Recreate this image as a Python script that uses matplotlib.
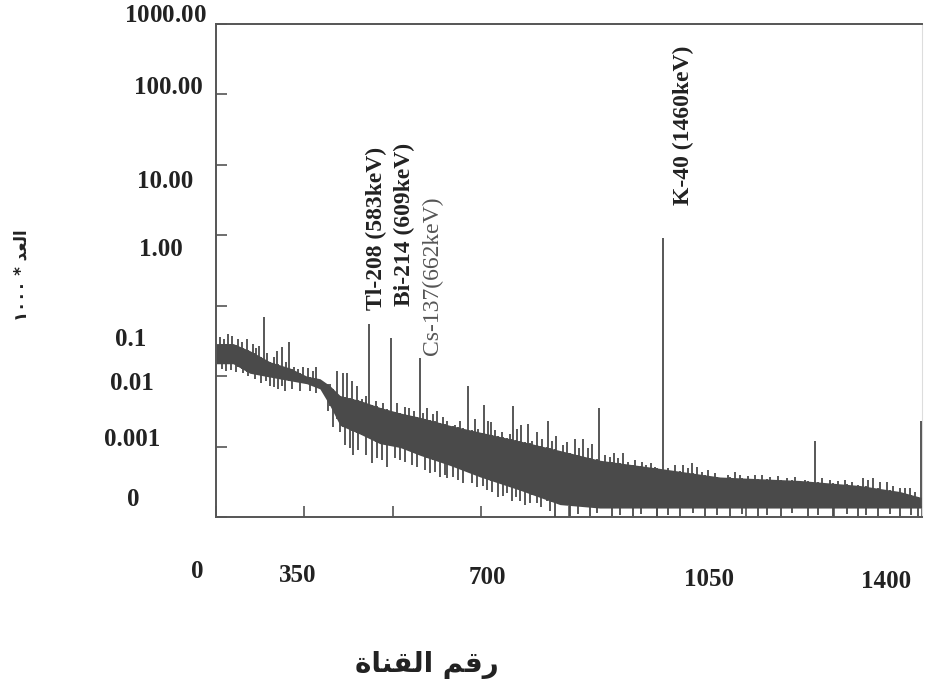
import numpy as np
import matplotlib
matplotlib.use("Agg")
import matplotlib.pyplot as plt
from matplotlib.transforms import ScaledTranslation

# ---------------- data ----------------
# continuum band of the spectrum: channel, upper edge, lower edge (counts*1000)
band_ch = [0, 34, 67, 107, 147, 180, 206, 226, 246, 286, 325, 365, 405, 464,
           524, 603, 682, 761, 880, 999, 1158, 1277, 1356, 1398]
band_hi = [0.029, 0.029, 0.023, 0.016, 0.013, 0.010, 0.0092, 0.0073, 0.0053,
           0.0045, 0.0036, 0.0030, 0.0026, 0.0020, 0.0016, 0.0012, 0.00088,
           0.00064, 0.00049, 0.00037, 0.00033, 0.00028, 0.00023, 0.00019]
band_lo = [0.015, 0.015, 0.011, 0.0097, 0.0086, 0.0078, 0.0066, 0.0038, 0.0020,
           0.0015, 0.0011, 0.00097, 0.00075, 0.00054, 0.00037, 0.00024, 0.00015,
           0.000134, 0.000134, 0.000134, 0.000134, 0.000134, 0.000134, 0.000134]

# main photopeaks and strong lines: channel and peak value
peak_ch = [24, 44, 61, 73, 95, 131, 145, 240, 252, 260, 270, 280, 303, 347,
           359, 375, 405, 418, 438, 450, 500, 514, 531, 545, 589, 605, 619,
           637, 658, 674, 712, 728, 746, 760, 789, 807, 845, 863, 886, 910,
           926, 944, 954, 1039, 1188, 1283, 1303, 1331, 1356, 1376, 1398]
peak_val = [0.040, 0.034, 0.034, 0.029, 0.069, 0.026, 0.031, 0.012, 0.011,
            0.011, 0.0086, 0.0073, 0.055, 0.035, 0.0041, 0.0036, 0.018,
            0.0035, 0.0032, 0.0026, 0.0073, 0.0025, 0.0039, 0.0022, 0.0038,
            0.0020, 0.0021, 0.0016, 0.0023, 0.0014, 0.0013, 0.0013, 0.0011,
            0.0035, 0.00080, 0.00080, 0.00060, 0.00058, 0.92, 0.00054,
            0.00054, 0.00058, 0.00051, 0.00039, 0.0012, 0.00036, 0.00036,
            0.00031, 0.00026, 0.00026, 0.0023]

# small upward fluctuations along the top of the band
fluct_up_ch = [8, 16, 32, 52, 79, 85, 101, 115, 121, 139, 155, 163, 173, 182,
               192, 198, 226, 290, 297, 317, 331, 383, 393, 410, 430, 458, 474,
               484, 520, 539, 553, 567, 583, 597, 627, 646, 666, 688, 696, 720,
               738, 771, 781, 797, 817, 831, 853, 871, 896, 936, 964, 976, 990,
               1015, 1029, 1055, 1069, 1083, 1099, 1114, 1132, 1148, 1168, 1202,
               1218, 1233, 1247, 1261, 1293, 1317, 1342, 1366, 1386]
fluct_up_val = [0.036, 0.034, 0.037, 0.031, 0.025, 0.027, 0.021, 0.019, 0.023,
                0.016, 0.0135, 0.0127, 0.0135, 0.013, 0.012, 0.0135, 0.0078,
                0.0048, 0.0053, 0.0045, 0.0041, 0.0035, 0.0032, 0.0030, 0.0029,
                0.0023, 0.0020, 0.0023, 0.0018, 0.0023, 0.0017, 0.0016, 0.0015,
                0.0018, 0.0012, 0.0013, 0.0012, 0.00104, 0.00115, 0.00094,
                0.00097, 0.00075, 0.00070, 0.00068, 0.00060, 0.00064, 0.00054,
                0.00052, 0.00049, 0.00049, 0.00043, 0.00046, 0.00042, 0.00040,
                0.00043, 0.00038, 0.00039, 0.00040, 0.00037, 0.00038, 0.00036,
                0.00037, 0.00034, 0.00036, 0.00034, 0.00032, 0.00033, 0.00031,
                0.00033, 0.00031, 0.00028, 0.00026, 0.00023]

# downward fluctuations below the band: channel and lowest value
dip_ch = [12, 20, 30, 40, 54, 63, 77, 89, 99, 107, 115, 123, 131, 137, 151,
          167, 186, 198, 222, 232, 246, 256, 266, 272, 282, 297, 309, 319,
          329, 339, 355, 365, 375, 389, 399, 414, 424, 434, 444, 454, 458,
          470, 480, 490, 508, 518, 529, 537, 547, 559, 569, 577, 587, 595,
          603, 613, 623, 637, 644, 656, 662, 672, 702, 718, 742, 755, 785,
          801, 827, 843, 875, 896, 920, 946, 970, 993, 1019, 1043, 1075, 1093,
          1120, 1142, 1174, 1194, 1224, 1251, 1273, 1289, 1313, 1337, 1356,
          1378, 1392]
dip_val = [0.0127, 0.012, 0.0123, 0.0115, 0.011, 0.010, 0.0092, 0.0080,
           0.0086, 0.0073, 0.0071, 0.0066, 0.0073, 0.0062, 0.0066, 0.0062,
           0.0062, 0.0058, 0.0032, 0.0019, 0.0016, 0.00104, 0.00097, 0.00075,
           0.00088, 0.00075, 0.00058, 0.00068, 0.00064, 0.00051, 0.00068,
           0.00064, 0.00060, 0.00054, 0.00051, 0.00046, 0.00042, 0.00043,
           0.00037, 0.00039, 0.00036, 0.00037, 0.00033, 0.00030, 0.00030,
           0.00027, 0.00028, 0.00024, 0.00023, 0.00019, 0.00020, 0.00022,
           0.00017, 0.00019, 0.00017, 0.00015, 0.00016, 0.00016, 0.00014,
           0.00017, 0.00012, 0.00010, 0.000103, 0.000110, 0.000103, 0.000115,
           0.000103, 0.000108, 0.000103, 0.000112, 0.000103, 0.000106,
           0.000103, 0.000115, 0.000103, 0.000108, 0.000103, 0.000112,
           0.000103, 0.000106, 0.000103, 0.000115, 0.000103, 0.000108,
           0.000103, 0.000112, 0.000103, 0.000106, 0.000103, 0.000110,
           0.000103, 0.000108, 0.000103]

# peak annotations
ann_text = ["Tl-208 (583keV)", "Bi-214 (609keV)", "Cs-137(662keV)", "K-40 (1460keV)"]
ann_ch = [319, 373, 430, 926]
ann_y = [0.087, 0.10, 0.020, 2.7]
ann_bold = [True, True, False, True]

# axis ticks and labels
yticks = [1e-4, 1e-3, 1e-2, 1e-1, 1, 10, 100, 1000]
ylabels = ["0", "0.001", "0.01", "0.1", "1.00", "10.00", "100.00",
           r"$\mathbf{1000.}\!\mathit{00}$"]
xticks = [0, 350, 700, 1050, 1400]
xminor = [175, 525, 875, 1225]
xlabels = ["0", "350", "700", "1050", "1400"]

xlabel_text = "\uFE93\uFE8E\uFEE8\uFED8\uFEDF\uFE8D \uFEE2\uFED7\uFEAD"   # رقم القناة
ylabel_text = "\u0661\u0660\u0660\u0660 * \uFEAA\uFECC\uFEDF\uFE8D"        # العد * ١٠٠٠

# ---------------- layout ----------------
plt.rcParams['font.family'] = ['Liberation Serif', 'DejaVu Sans']
plt.rcParams['mathtext.fontset'] = 'custom'
plt.rcParams['mathtext.bf'] = 'Liberation Serif:bold'
plt.rcParams['mathtext.it'] = 'Liberation Serif:italic:bold'
plt.rcParams['mathtext.rm'] = 'Liberation Serif:bold'

W, H = 927, 697
DPI = 100
fig = plt.figure(figsize=(W / DPI, H / DPI), dpi=DPI)
AX_L, AX_R, AX_T, AX_B = 216, 922, 24, 517
ax = fig.add_axes([AX_L / W, 1 - AX_B / H, (AX_R - AX_L) / W, (AX_B - AX_T) / H])

ax.set_yscale('log')
ax.set_xlim(0, 1400)
ax.set_ylim(1e-4, 1e3)

dark = '#4a4a4a'
bch = np.array(band_ch, float)
lhi = np.log10(band_hi)
llo = np.log10(band_lo)

ax.fill_between(bch, band_lo, band_hi, color=dark, lw=0, zorder=2)

# spikes start from the band
pbase = 10 ** np.interp(peak_ch, bch, llo)
ax.vlines(peak_ch, pbase, peak_val, color=dark, lw=1.3, zorder=3)
fbase = 10 ** np.interp(fluct_up_ch, bch, llo)
ax.vlines(fluct_up_ch, fbase, fluct_up_val, color=dark, lw=1.3, zorder=3)
dtop = 10 ** np.interp(dip_ch, bch, lhi)
ax.vlines(dip_ch, dip_val, dtop, color=dark, lw=1.3, zorder=3)

for t, c, y, b in zip(ann_text, ann_ch, ann_y, ann_bold):
    ax.text(c, y, t, rotation=90, ha='center', va='bottom',
            fontsize=17, fontweight='bold' if b else 'normal',
            color='#222222' if b else '#555555', family='Liberation Serif')

# spines
for s in ['left', 'bottom', 'top']:
    ax.spines[s].set_color('#555555')
    ax.spines[s].set_linewidth(1.4)
ax.spines['right'].set_color('#dddddd')
ax.spines['right'].set_linewidth(0.8)

# ticks
ax.set_yticks(yticks)
ax.set_yticklabels(ylabels)
ax.yaxis.set_minor_locator(matplotlib.ticker.NullLocator())
ax.set_xticks(xticks)
ax.set_xticklabels(xlabels)
ax.set_xticks(xminor, minor=True)
ax.tick_params(axis='both', which='both', direction='in', length=8,
               width=1.2, color='#555555', pad=0)
ax.tick_params(axis='x', which='minor', labelbottom=False)

# place the tick labels where they are printed in the scan
ylab_pos = [(133, 500), (132, 440), (132, 383), (131, 340), (161, 250),
            (165, 182), (168, 88), (165, 15)]
dec = (AX_B - AX_T) / 7.0
for k, (lab, (px, py)) in enumerate(zip(ax.get_yticklabels(), ylab_pos)):
    tick_py = AX_B - dec * k
    lab.set_ha('center')
    lab.set_va('center')
    lab.set_fontsize(18)
    lab.set_fontweight('bold')
    lab.set_color('#222222')
    lab.set_transform(lab.get_transform() +
                      ScaledTranslation((px - AX_L) / DPI, (tick_py - py) / DPI,
                                        fig.dpi_scale_trans))

xlab_pos = [(197, 571), (298, 575), (487, 577), (709, 580), (886, 582)]
for lab, v, (px, py) in zip(ax.get_xticklabels(), xticks, xlab_pos):
    tick_px = AX_L + v / 1400 * (AX_R - AX_L)
    lab.set_ha('center')
    lab.set_va('center')
    lab.set_fontsize(18)
    lab.set_fontweight('bold')
    lab.set_color('#222222')
    lab.set_transform(lab.get_transform() +
                      ScaledTranslation((px - tick_px) / DPI, (AX_B - py) / DPI,
                                        fig.dpi_scale_trans))

# axis titles (Arabic, pre-shaped presentation forms)
fig.text(427 / W, 1 - 665 / H, xlabel_text, ha='center', va='center',
         fontsize=20, fontweight='bold', family=['DejaVu Sans'], color='#222222')
fig.text(22 / W, 1 - 275 / H, ylabel_text, ha='center', va='center',
         rotation=90, fontsize=12, fontweight='bold', family=['DejaVu Sans'],
         color='#222222')

fig.savefig('out.png', dpi=DPI)
